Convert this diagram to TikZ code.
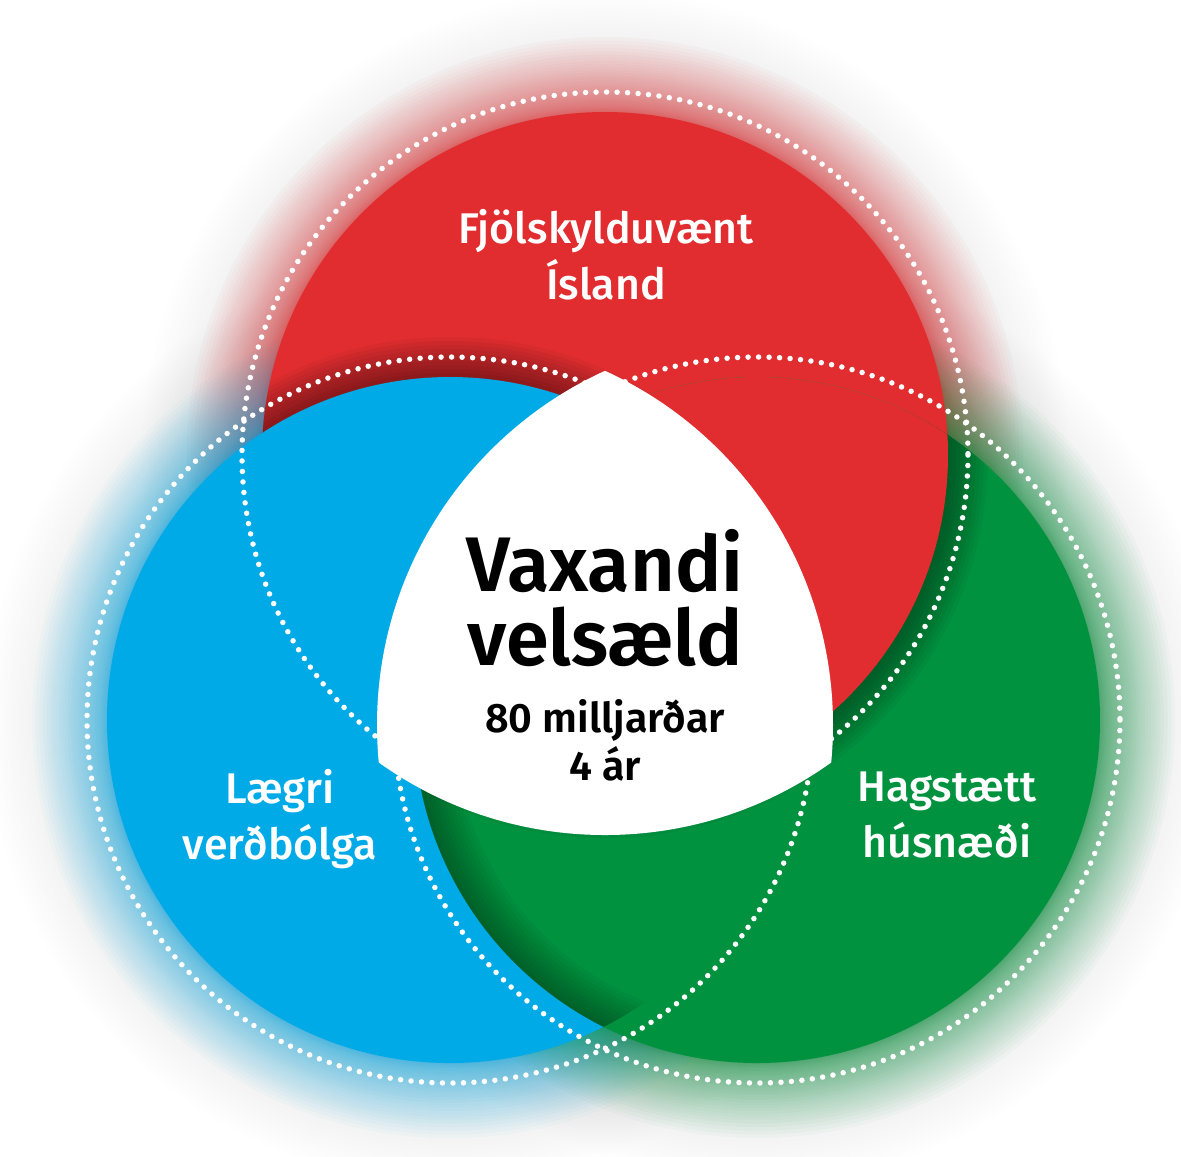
\documentclass[tikz,border=0pt]{standalone}
\usepackage{fontspec}
\setmainfont{Fira Sans}
\newfontfamily\firamedium{Fira Sans Medium}
\newfontfamily\firasemi{Fira Sans SemiBold}
\definecolor{redfill}{RGB}{225,45,48}
\definecolor{bluefill}{RGB}{0,170,230}
\definecolor{greenfill}{RGB}{0,146,63}

\begin{document}
\begin{tikzpicture}[x=0.01cm,y=-0.01cm,
        dotring/.style={white,line width=0.055cm,line cap=round,dash pattern=on 0pt off 0.105cm},
        lab/.style={white,align=center,inner sep=0pt,font=\firamedium\fontsize{12.2}{15.9}\selectfont},
        title/.style={black,align=center,inner sep=0pt,font=\firasemi\fontsize{22}{20.8}\selectfont},
        subtitle/.style={black,align=center,inner sep=0pt,font=\firasemi\fontsize{11.7}{13.7}\selectfont}
    ]
    \useasboundingbox (0,0) rectangle (1181,1156);

    % Centres of the three circles
    \coordinate (redc) at (605,455);
    \coordinate (bluec) at (450,720);
    \coordinate (greenc) at (757,720);
    % Centres of the arcs of the middle shape
    \coordinate (arcT) at (605,446);
    \coordinate (arcL) at (766,725);
    \coordinate (arcR) at (444,725);

    % Soft grey halo
    \foreach \p in {redc,bluec,greenc}
        \foreach \k in {1,...,30}
            \fill[black,opacity=.0022] (\p) circle [radius=343+4*\k];

    % Coloured glow
    \foreach \c/\p in {redfill/redc,bluefill/bluec,greenfill/greenc}
        \foreach \k in {1,...,40}
            \fill[\c,opacity=.026] (\p) circle [radius={343+75*(\k/40)^2}];

    % Red circle, shadow of the blue one on it
    \fill[redfill] (redc) circle [radius=343];
    \begin{scope}
        \clip (redc) circle [radius=343];
        \foreach \k in {1,...,10}
            \draw[black,opacity=.045,line width=\k*0.08cm] (bluec) circle [radius=343];
    \end{scope}

    % Blue and green circles
    \fill[bluefill] (bluec) circle [radius=343];
    \fill[greenfill] (greenc) circle [radius=343];
    \begin{scope}
        \clip (greenc) circle [radius=343];
        \foreach \k in {1,...,10}
            \draw[black,opacity=.038,line width=\k*0.08cm] (redc) circle [radius=343];
    \end{scope}
    \begin{scope}
        \clip (greenc) circle [radius=343];
        \clip (bluec) circle [radius=343];
        \foreach \k in {1,...,10}
            \draw[black,opacity=.035,line width=\k*0.08cm] (greenc) circle [radius=343];
    \end{scope}

    % Red again over the green one
    \begin{scope}
        \clip (greenc) circle [radius=343];
        \fill[redfill] (redc) circle [radius=343];
    \end{scope}

    % Dotted rings
    \foreach \p in {redc,bluec,greenc}
        \draw[dotring] (\p) circle [radius=363];

    % Middle shape
    \begin{scope}
        \clip (arcT) circle [radius=389];
        \clip (arcL) circle [radius=389];
        \fill[white] (arcR) circle [radius=389];
    \end{scope}

    % Labels
    \node[lab] (family) at (606,255) {Fjölskylduvænt\\Ísland};
    \node[lab] (inflation) at (280,819) {Lægri\\verðbólga};
    \node[lab] (housing) at (947,815) {Hagstætt\\húsnæði};
    \node[title] (welfare) at (605,598) {Vaxandi\\velsæld};
    \node[subtitle] (budget) at (605,740) {80 milljarðar\\4 ár};
\end{tikzpicture}
\end{document}
